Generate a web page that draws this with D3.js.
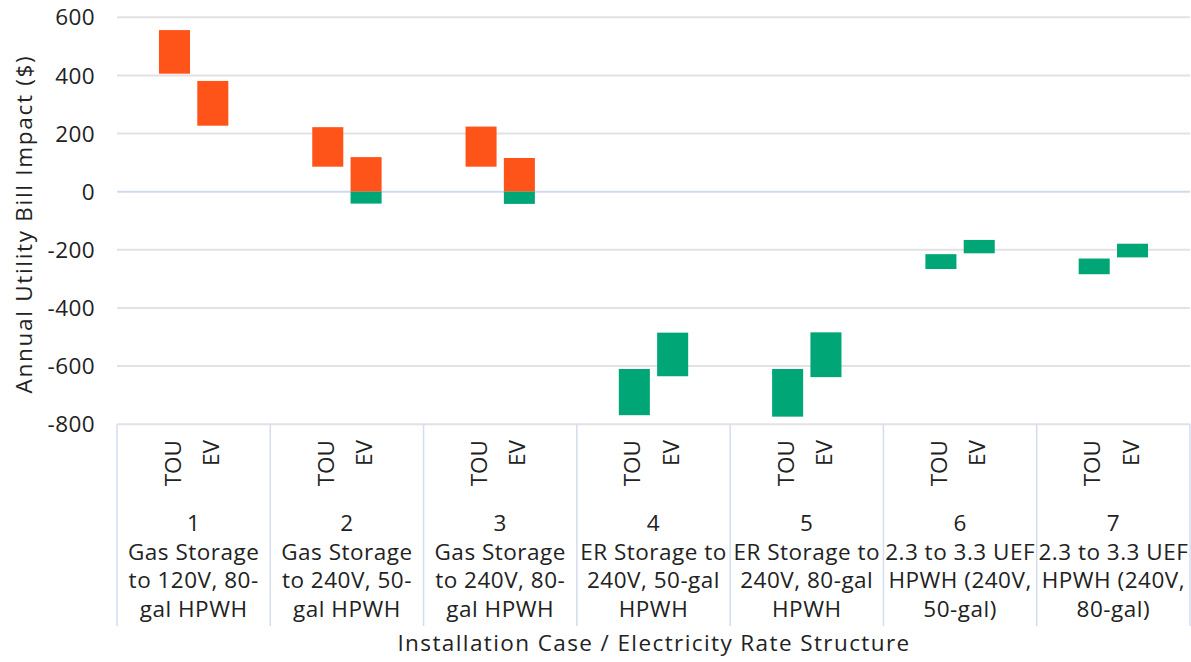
<!DOCTYPE html>
<html>
<head>
<meta charset="utf-8">
<script src="https://cdn.jsdelivr.net/npm/d3@7"></script>
<style>
  body { margin: 0; background: #fff; }
  svg text { font-family: "Open Sans", Lato, sans-serif; fill: #222; }
</style>
</head>
<body>
<svg id="chart" width="1191" height="662"></svg>
<script>
// installation cases (number + wrapped description)
const caseIds = ["1", "2", "3", "4", "5", "6", "7"];
const caseLines = [
  ["Gas Storage", "to 120V, 80-", "gal HPWH"],
  ["Gas Storage", "to 240V, 50-", "gal HPWH"],
  ["Gas Storage", "to 240V, 80-", "gal HPWH"],
  ["ER Storage to", "240V, 50-gal", "HPWH"],
  ["ER Storage to", "240V, 80-gal", "HPWH"],
  ["2.3 to 3.3 UEF", "HPWH (240V,", "50-gal)"],
  ["2.3 to 3.3 UEF", "HPWH (240V,", "80-gal)"]
];
const rates = ["TOU", "EV"];

// floating bar ranges ($/yr): low and high end of each bar
const touLow  = [406, 86, 86, -769, -774, -266, -284];
const touHigh = [556, 222, 224, -610, -610, -215, -230];
const evLow   = [227, -41, -42, -635, -638, -212, -226];
const evHigh  = [381, 119, 116, -485, -484, -166, -179];

const yTicks = [600, 400, 200, 0, -200, -400, -600, -800];

const posColor = "#FF5419";
const negColor = "#00A676";
const fs = 22.5;

const svg = d3.select("#chart");
const plotL = 117, plotR = 1190, plotT = 17.3, plotB = 424.2;

const y = d3.scaleLinear().domain([-800, 600]).range([plotB, plotT]);
const x = d3.scaleBand().domain(caseIds).range([plotL, plotR]).padding(0);
const xr = d3.scaleBand().domain(rates).range([0, x.bandwidth()])
  .paddingInner(0.19).paddingOuter(1.095);

// gridlines
svg.append("g").selectAll("line")
  .data(yTicks)
  .join("line")
    .attr("x1", plotL).attr("x2", plotR)
    .attr("y1", d => y(d)).attr("y2", d => y(d))
    .attr("stroke", d => d === 0 ? "#cfdaf0" : "#e2e2e2")
    .attr("stroke-width", 2);

// y tick labels
svg.append("g").selectAll("text")
  .data(yTicks)
  .join("text")
    .attr("x", 95)
    .attr("y", d => y(d))
    .attr("dy", "0.36em")
    .attr("text-anchor", "end")
    .attr("font-size", fs)
    .attr("letter-spacing", 0.4)
    .text(d => d);

// y title
svg.append("text")
  .attr("transform", "translate(32,224) rotate(-90)")
  .attr("text-anchor", "middle")
  .attr("font-size", fs)
  .attr("letter-spacing", 1.7)
  .text("Annual Utility Bill Impact ($)");

// bars: split each range at zero into positive (orange) and negative (green) pieces
const bars = [];
caseIds.forEach((c, i) => {
  [[touLow, touHigh, "TOU"], [evLow, evHigh, "EV"]].forEach(([lo, hi, r]) => {
    const a = lo[i], b = hi[i];
    if (b > 0) bars.push({c, r, y0: Math.max(a, 0), y1: b, col: posColor});
    if (a < 0) bars.push({c, r, y0: a, y1: Math.min(b, 0), col: negColor});
  });
});

svg.append("g").selectAll("rect")
  .data(bars)
  .join("rect")
    .attr("x", d => x(d.c) + xr(d.r))
    .attr("width", xr.bandwidth())
    .attr("y", d => y(d.y1))
    .attr("height", d => y(d.y0) - y(d.y1))
    .attr("fill", d => d.col);

// category separators
const seps = caseIds.map(c => x(c)).concat([plotR]);
svg.append("g").selectAll("line")
  .data(seps)
  .join("line")
    .attr("x1", d => d).attr("x2", d => d)
    .attr("y1", plotB).attr("y2", 626)
    .attr("stroke", "#d3ddf0")
    .attr("stroke-width", 1.5);

// rate labels (rotated)
const rateG = svg.append("g");
caseIds.forEach(c => {
  rates.forEach(r => {
    rateG.append("text")
      .attr("transform", `translate(${x(c) + xr(r) + xr.bandwidth() / 2 - 2},440) rotate(-90)`)
      .attr("text-anchor", "end")
      .attr("dy", "0.36em")
      .attr("font-size", fs)
      .text(r);
  });
});

// case labels
const caseG = svg.append("g").selectAll("text")
  .data(caseIds)
  .join("text")
    .attr("text-anchor", "middle")
    .attr("font-size", fs)
    .attr("letter-spacing", 0.5);
caseG.each(function(c, i) {
  const t = d3.select(this);
  const cx = x(c) + x.bandwidth() / 2;
  [c].concat(caseLines[i]).forEach((line, k) => {
    t.append("tspan")
      .attr("x", cx)
      .attr("y", 531 + k * 28.7)
      .text(line);
  });
});

// x title
svg.append("text")
  .attr("x", 654)
  .attr("y", 651)
  .attr("text-anchor", "middle")
  .attr("font-size", fs)
  .attr("letter-spacing", 1.4)
  .text("Installation Case / Electricity Rate Structure");
</script>
</body>
</html>
